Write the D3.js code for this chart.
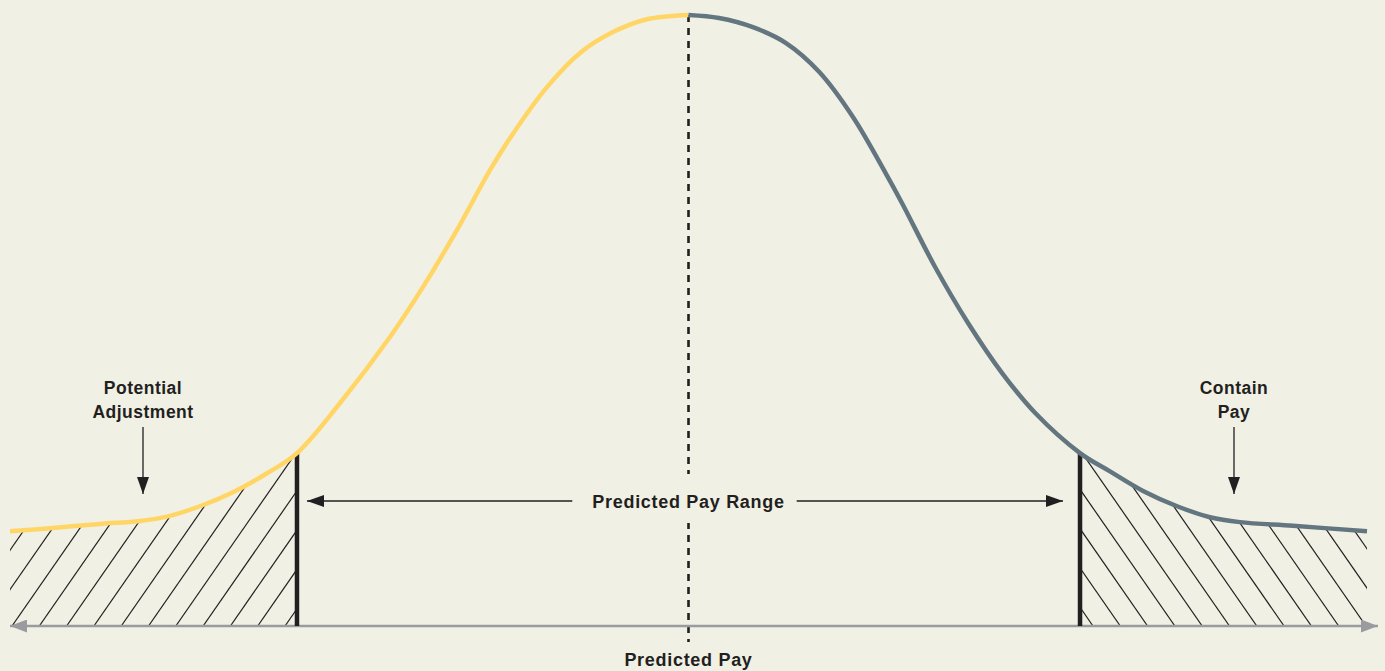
<!DOCTYPE html>
<html>
<head>
<meta charset="utf-8">
<script src="https://cdn.jsdelivr.net/npm/d3@7"></script>
<style>
  html, body { margin: 0; padding: 0; background: #f1f0e5; }
  svg { display: block; }
  text { font-family: "Liberation Sans", Arial, Helvetica, sans-serif; font-weight: 700; fill: #231f20; }
</style>
</head>
<body>
<svg id="chart" width="1385" height="671"></svg>
<script>
// ---- data (x in standard deviations from predicted pay, y = relative density, peak = 100)
const leftX  = [-3.466, -3.262, -3.007, -2.802, -2.664, -2.496, -2.327, -2.153, -2.0, -1.780, -1.525, -1.356, -1.183, -1.014, -0.894, -0.723, -0.554, -0.386, -0.212, 0];
const leftY  = [15.5, 16.0, 16.7, 17.2, 17.9, 19.6, 21.9, 25.0, 28.3, 36.5, 47.3, 55.5, 64.8, 74.6, 80.7, 88.2, 93.8, 97.2, 99.3, 100];
const rightX = [0, 0.156, 0.329, 0.498, 0.667, 0.840, 1.009, 1.091, 1.259, 1.428, 1.602, 1.770, 2.0, 2.153, 2.322, 2.496, 2.664, 2.817, 3.088, 3.466];
const rightY = [100, 99.5, 98.0, 95.4, 90.7, 83.3, 74.0, 69.2, 58.8, 49.6, 41.4, 34.9, 28.3, 25.3, 22.1, 19.6, 17.8, 17.0, 16.4, 15.5];
const rangeBounds = [-2, 2];          // predicted pay range limits
const centerValue = 0;                // predicted pay
const leftLabel  = ["Potential", "Adjustment"];
const rightLabel = ["Contain", "Pay"];
const rangeLabel = "Predicted Pay Range";
const axisLabel  = "Predicted Pay";

// ---- setup
const svg = d3.select("#chart");
const W = 1385, H = 671;
svg.append("rect").attr("width", W).attr("height", H).attr("fill", "#f1f0e5");

const x = d3.scaleLinear().domain([-3.466, 3.466]).range([10, 1367]);
const y = d3.scaleLinear().domain([0, 100]).range([626, 15]);

const leftData  = leftX.map((v, i) => ({x: v, y: leftY[i]}));
const rightData = rightX.map((v, i) => ({x: v, y: rightY[i]}));

const curve = d3.curveCatmullRom.alpha(0.5);
const line = d3.line().x(d => x(d.x)).y(d => y(d.y)).curve(curve);
const area = d3.area().x(d => x(d.x)).y0(y(0)).y1(d => y(d.y)).curve(curve);

const defs = svg.append("defs");
function arrowMarker(id, color, w, h) {
  defs.append("marker").attr("id", id)
    .attr("viewBox", `0 0 ${w} ${h}`).attr("refX", w).attr("refY", h / 2)
    .attr("markerWidth", w).attr("markerHeight", h).attr("markerUnits", "userSpaceOnUse")
    .attr("orient", "auto-start-reverse")
    .append("path").attr("d", `M0,0L${w},${h/2}L0,${h}Z`).attr("fill", color);
}
arrowMarker("arrDark", "#231f20", 17, 12);
arrowMarker("arrGray", "#999b9e", 17, 13);

// ---- hatched tails
const tailLeft  = leftData.filter(d => d.x <= rangeBounds[0]);
const tailRight = rightData.filter(d => d.x >= rangeBounds[1]);
defs.append("clipPath").attr("id", "clipL").append("path").attr("d", area(tailLeft));
defs.append("clipPath").attr("id", "clipR").append("path").attr("d", area(tailRight));

const spacing = 27.3, slope = 1.44, base = y(0), hgt = 200;
const gL = svg.append("g").attr("clip-path", "url(#clipL)");
for (let k = -2; k < 16; k++) {
  const x0 = 12 + k * spacing;
  gL.append("line").attr("x1", x0).attr("y1", base).attr("x2", x0 + hgt / slope).attr("y2", base - hgt)
    .attr("stroke", "#231f20").attr("stroke-width", 1.2);
}
const gR = svg.append("g").attr("clip-path", "url(#clipR)");
for (let k = -2; k < 20; k++) {
  const x0 = 1093 + k * spacing;
  gR.append("line").attr("x1", x0).attr("y1", base).attr("x2", x0 - hgt / slope).attr("y2", base - hgt)
    .attr("stroke", "#231f20").attr("stroke-width", 1.2);
}

// ---- center dashed line
svg.append("line").attr("x1", x(centerValue)).attr("x2", x(centerValue))
  .attr("y1", y(100)).attr("y2", 642)
  .attr("stroke", "#231f20").attr("stroke-width", 2.6).attr("stroke-dasharray", "7,6");

// ---- axis
svg.append("line").attr("x1", 10).attr("x2", 1378).attr("y1", base).attr("y2", base)
  .attr("stroke", "#999b9e").attr("stroke-width", 2.5)
  .attr("marker-start", "url(#arrGray)").attr("marker-end", "url(#arrGray)");

// ---- range bars
rangeBounds.forEach((b, i) => {
  const d = (i === 0 ? leftData : rightData).find(p => p.x === b);
  svg.append("line").attr("x1", x(b)).attr("x2", x(b)).attr("y1", y(d.y)).attr("y2", base)
    .attr("stroke", "#231f20").attr("stroke-width", 4.5);
});

// ---- curves
svg.append("path").attr("d", line(leftData)).attr("fill", "none")
  .attr("stroke", "#ffd666").attr("stroke-width", 4.5);
svg.append("path").attr("d", line(rightData)).attr("fill", "none")
  .attr("stroke", "#637680").attr("stroke-width", 4.5);

// ---- predicted pay range label and arrows
const ry = 501;
const rl = svg.append("text").attr("x", x(centerValue)).attr("y", ry + 7).attr("text-anchor", "middle")
  .attr("font-size", 18).attr("letter-spacing", 0.7).text(rangeLabel);
const bb = rl.node().getBBox();
svg.insert("rect", "text").attr("x", bb.x - 4).attr("y", ry - 27).attr("width", bb.width + 8).attr("height", 49)
  .attr("fill", "#f1f0e5");
svg.append("line").attr("x1", bb.x - 20).attr("x2", x(rangeBounds[0]) + 10).attr("y1", ry).attr("y2", ry)
  .attr("stroke", "#231f20").attr("stroke-width", 1.3).attr("marker-end", "url(#arrDark)");
svg.append("line").attr("x1", bb.x + bb.width + 12).attr("x2", x(rangeBounds[1]) - 17).attr("y1", ry).attr("y2", ry)
  .attr("stroke", "#231f20").attr("stroke-width", 1.3).attr("marker-end", "url(#arrDark)");

// ---- tail labels
function tailLabel(cx, lines) {
  lines.forEach((t, i) => {
    svg.append("text").attr("x", cx).attr("y", 394 + i * 24).attr("text-anchor", "middle")
      .attr("font-size", 17.5).attr("letter-spacing", 0.5).text(t);
  });
  svg.append("line").attr("x1", cx).attr("x2", cx).attr("y1", 427).attr("y2", 494)
    .attr("stroke", "#231f20").attr("stroke-width", 1.3).attr("marker-end", "url(#arrDark)");
}
tailLabel(143, leftLabel);
tailLabel(1234, rightLabel);

// ---- axis label
svg.append("text").attr("x", x(centerValue)).attr("y", 666).attr("text-anchor", "middle")
  .attr("font-size", 18).attr("letter-spacing", 0.7).text(axisLabel);
</script>
</body>
</html>
